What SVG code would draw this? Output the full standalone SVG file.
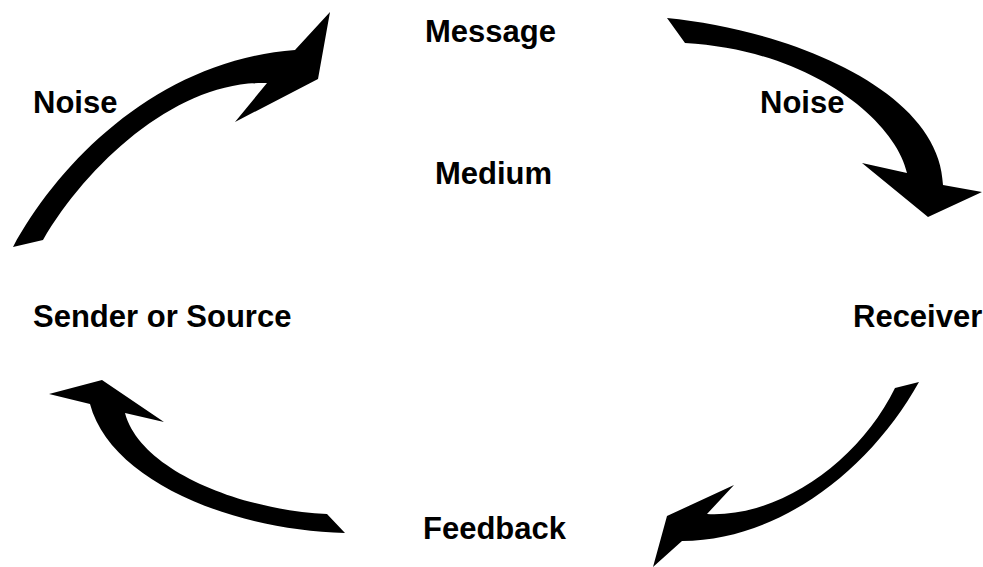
<svg xmlns="http://www.w3.org/2000/svg" width="983" height="567" viewBox="0 0 983 567">
<style>
.t{font-family:"Liberation Sans",Arial,sans-serif;font-weight:bold;font-size:31px;fill:#000}
.a{fill:#000;stroke:none}
</style>
<rect width="983" height="567" fill="#fff"/>
<g id="message"><text class="t" x="425" y="42">Message</text></g>
<g id="medium"><text class="t" x="435" y="184">Medium</text></g>
<g id="noise-left"><text class="t" x="33" y="113">Noise</text></g>
<g id="noise-right"><text class="t" x="760" y="113">Noise</text></g>
<g id="sender"><text class="t" x="33" y="327">Sender or Source</text></g>
<g id="receiver"><text class="t" x="853" y="327">Receiver</text></g>
<g id="feedback"><text class="t" x="423" y="539">Feedback</text></g>
<g id="connectors">
<path class="a" d="M13,247 C60,160 160,60 295,50 L330,12 L318,79 L235,122 L267,83 C180,80 90,160 43,240 Z"/>
<path class="a" d="M667,18 C790,30 940,90 943,185 L982,192 L928,217 L862,163 L907,173 C895,120 810,50 685,43 Z"/>
<path class="a" d="M919,382 C870,470 780,540 682,541 L653,567 L667,516 L734,485 L707,514 C780,518 860,460 895,388 Z"/>
<path class="a" d="M345,533 C230,530 110,480 90,404 L49,394 L102,380 L164,422 L125,413 C140,470 240,510 327,514 Z"/>
</g>
</svg>
